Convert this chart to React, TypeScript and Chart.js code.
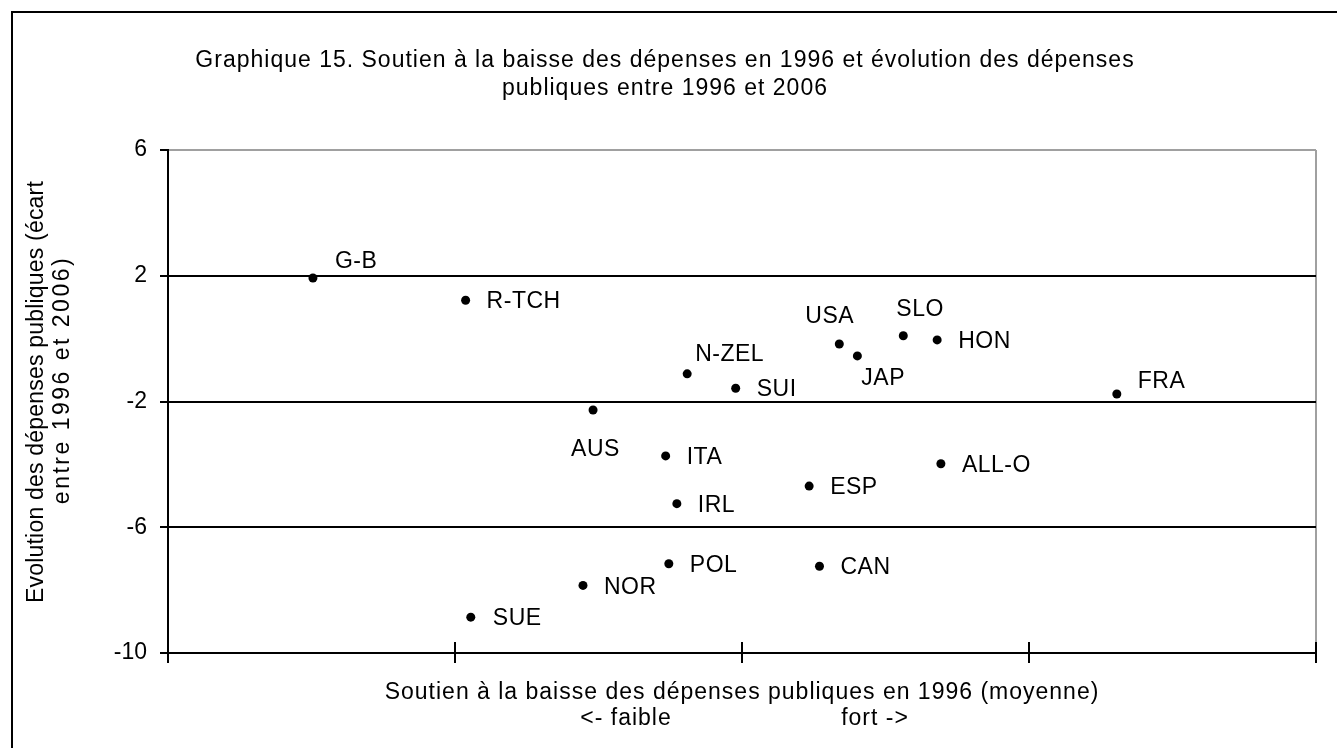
import { useEffect, useRef } from 'react';
import { Chart, registerables } from 'chart.js';

Chart.register(...registerables);

// ---- data ----
const countries = ['G-B', 'R-TCH', 'AUS', 'N-ZEL', 'SUI', 'USA', 'JAP', 'SLO', 'HON', 'FRA', 'ITA', 'ESP', 'ALL-O', 'IRL', 'POL', 'CAN', 'NOR', 'SUE'];
const soutien = [0.505, 1.037, 1.481, 1.809, 1.978, 2.339, 2.402, 2.562, 2.68, 3.306, 1.734, 2.234, 2.693, 1.773, 1.745, 2.27, 1.446, 1.055];
const evolution = [1.93, 1.22, -2.27, -1.12, -1.58, -0.17, -0.55, 0.09, -0.04, -1.76, -3.73, -4.69, -3.98, -5.25, -7.16, -7.24, -7.85, -8.86];
const xTicks = [0, 1, 2, 3, 4];
const yMin = -10;
const yMax = 6;
const yStep = 4;

const titleLines = [
  'Graphique 15. Soutien à la baisse des dépenses en 1996 et évolution des dépenses',
  'publiques entre 1996 et 2006',
];
const yTitleLines = ['Evolution des dépenses publiques (écart', 'entre 1996 et 2006)'];
const xTitle = 'Soutien à la baisse des dépenses publiques en 1996 (moyenne)';
const xLow = '<- faible';
const xHigh = 'fort ->';

// ---- label placement (style): [dx from point to text left, dy from point to text centre] ----
const labelOffsets: [number, number][] = [
  [22, -18], [21, -1], [-22, 38], [8, -21], [21, -1], [-34, -29], [4, 21], [-7, -28], [21, 0],
  [21, -14], [21, 0], [21, 0], [21, 0], [21, 0], [21, 0], [21, -1], [21, 0], [22, 0],
];

const FONT = '"Liberation Sans", Arial, sans-serif';
const FS = 23;

const decor = {
  id: 'decor',
  beforeDraw(chart: any) {
    const ctx = chart.ctx;
    ctx.save();
    ctx.fillStyle = '#ffffff';
    ctx.fillRect(0, 0, chart.width, chart.height);
    ctx.fillStyle = '#000000';
    ctx.fillRect(11, 11, chart.width, 2);
    ctx.fillRect(11, 11, 2, chart.height);
    ctx.restore();
  },
  afterDatasetsDraw(chart: any) {
    const ctx = chart.ctx;
    const meta = chart.getDatasetMeta(0);
    ctx.save();
    ctx.fillStyle = '#000';
    ctx.font = `${FS}px ${FONT}`;
    ctx.letterSpacing = '0.5px';
    ctx.textAlign = 'left';
    ctx.textBaseline = 'alphabetic';
    meta.data.forEach((pt: any, i: number) => {
      const [dx, dy] = labelOffsets[i];
      ctx.fillText(countries[i], pt.x + dx, pt.y + dy + 8.3);
    });
    ctx.restore();
  },
  afterDraw(chart: any) {
    const ctx = chart.ctx;
    const { left, right, bottom } = chart.chartArea;
    const xs = chart.scales.x;
    ctx.save();
    ctx.strokeStyle = '#000';
    ctx.lineWidth = 2;
    xTicks.forEach((v) => {
      const px = Math.round(xs.getPixelForValue(v));
      ctx.beginPath();
      ctx.moveTo(px, bottom - 11);
      ctx.lineTo(px, bottom + 10);
      ctx.stroke();
    });

    ctx.fillStyle = '#000';
    ctx.font = `${FS}px ${FONT}`;
    ctx.letterSpacing = '1px';
    ctx.textBaseline = 'alphabetic';
    ctx.textAlign = 'center';
    ctx.fillText(titleLines[0], 665, 67);
    ctx.fillText(titleLines[1], 665, 95);

    const cx = (left + right) / 2;
    ctx.fillText(xTitle, cx, 699);
    ctx.fillText(xLow, 626, 725);
    ctx.fillText(xHigh, 875, 725);

    ctx.save();
    ctx.letterSpacing = '0.2px';
    ctx.translate(43, 392);
    ctx.rotate(-Math.PI / 2);
    ctx.fillText(yTitleLines[0], 0, 0);
    ctx.restore();
    ctx.save();
    ctx.letterSpacing = '2.5px';
    ctx.translate(69, 380);
    ctx.rotate(-Math.PI / 2);
    ctx.fillText(yTitleLines[1], 0, 0);
    ctx.restore();

    ctx.restore();
  },
};

export default function App() {
  const ref = useRef<HTMLCanvasElement | null>(null);
  useEffect(() => {
    if (!ref.current) return;
    const chart = new Chart(ref.current, {
      type: 'scatter',
      data: {
        datasets: [
          {
            data: countries.map((c, i) => ({ x: soutien[i], y: evolution[i] })),
            backgroundColor: '#000',
            borderColor: '#000',
            pointRadius: 4.5,
            pointBorderWidth: 0,
            pointHoverRadius: 4.5,
          },
        ],
      },
      options: {
        responsive: false,
        animation: false,
        devicePixelRatio: 1,
        events: [],
        layout: { padding: { left: 68, right: 21, top: 150, bottom: 85 } },
        plugins: { legend: { display: false }, tooltip: { enabled: false }, title: { display: false } },
        scales: {
          x: {
            type: 'linear',
            min: xTicks[0],
            max: xTicks[xTicks.length - 1],
            ticks: { display: false, stepSize: 1 },
            grid: {
              color: (c: any) => (c.tick && c.tick.value === xTicks[xTicks.length - 1] ? '#a0a0a0' : 'rgba(0,0,0,0)'),
              lineWidth: 2,
              drawTicks: false,
            },
            border: { color: '#000', width: 2 },
            afterFit: (s: any) => {
              s.height = 10;
            },
          },
          y: {
            type: 'linear',
            min: yMin,
            max: yMax,
            ticks: { stepSize: yStep, color: '#000', font: { family: FONT, size: FS }, padding: 13 },
            grid: {
              color: (c: any) => (c.tick && c.tick.value === yMax ? '#a0a0a0' : '#000'),
              lineWidth: 2,
              tickColor: '#000',
              tickLength: 8,
              tickWidth: 2,
            },
            border: { color: '#000', width: 2 },
            afterFit: (s: any) => {
              s.width = 100;
            },
          },
        },
      },
      plugins: [decor],
    } as any);
    return () => chart.destroy();
  }, []);
  return (
    <div style={{ position: 'fixed', left: 0, top: 0, width: 1337, height: 748, background: '#fff' }}>
      <canvas ref={ref} width={1337} height={748} style={{ width: 1337, height: 748, display: 'block' }} />
    </div>
  );
}
